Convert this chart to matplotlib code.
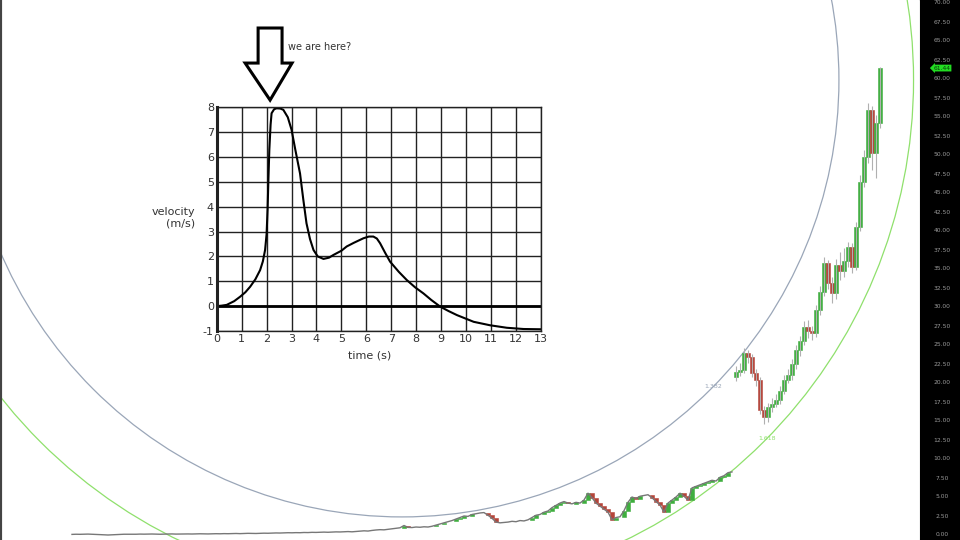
import numpy as np
import matplotlib.pyplot as plt
from matplotlib.patches import Ellipse, Polygon

plt.rcParams['axes.unicode_minus'] = False

# ---- datos: precio (barra = indice) ----
inicio1 = 18
cierre1 = [0.08, 0.1, 0.09, 0.1, 0.12, 0.1, 0.08, 0.05, 0.02, 0.0, 0.02, 0.05,
           0.08, 0.1, 0.1, 0.11, 0.1, 0.12, 0.11, 0.12, 0.13, 0.12, 0.1, 0.12,
           0.13, 0.14, 0.12, 0.13, 0.15, 0.14, 0.13, 0.15, 0.16, 0.15, 0.14, 0.16,
           0.17, 0.16, 0.18, 0.17, 0.19, 0.2, 0.18, 0.2, 0.22, 0.21, 0.2, 0.22,
           0.24, 0.23, 0.25, 0.27, 0.26, 0.28, 0.3, 0.29, 0.31, 0.3, 0.33, 0.32,
           0.35, 0.34, 0.36, 0.38, 0.36, 0.39, 0.41, 0.4, 0.43, 0.45, 0.42, 0.46,
           0.5, 0.55, 0.52, 0.6, 0.66, 0.7, 0.68, 0.75, 0.82, 0.9, 0.95, 1.25,
           1.0, 0.98, 1.05, 1.02, 1.08, 1.05, 1.15, 1.3, 1.45, 1.6, 1.75, 1.9,
           2.1, 2.3, 2.5, 2.45, 2.7, 2.8, 2.9, 2.95, 2.6, 2.2, 1.7, 1.6,
           1.65, 1.7, 1.8, 1.75, 1.9, 1.85, 2.0, 2.3, 2.6, 2.7, 3.0, 3.16,
           3.6, 3.9, 4.2, 4.4, 4.2, 4.1, 4.3, 4.2, 4.6, 5.5, 4.9, 4.2,
           3.8, 3.4, 3.0, 2.0, 2.3, 2.4, 3.2, 4.3, 5.0, 4.8, 5.1, 5.2,
           5.3, 4.9, 4.4, 3.95, 3.0, 4.2, 4.6, 5.0, 5.5, 5.1, 4.6, 6.2,
           6.4, 6.6, 6.8, 7.0, 7.2, 7.1, 7.6, 7.8, 8.2, 8.3]

inicio2 = 184
abre2 = [20.8, 21.4, 21.7, 23.9, 23.4, 21.3, 20.4, 16.4, 15.5, 16.8, 17.3, 17.8,
         19.0, 20.4, 21.0, 22.5, 24.3, 25.5, 27.4, 26.8, 26.6, 29.6, 32.0, 35.8,
         33.2, 31.8, 35.5, 34.8, 36.0, 37.9, 35.3, 40.5, 46.5, 49.7, 55.9, 50.3, 54.2]
cierre2 = [21.4, 21.7, 23.9, 23.4, 21.3, 20.4, 16.4, 15.5, 16.8, 17.3, 17.8, 19.0,
           20.4, 21.0, 22.5, 24.3, 25.5, 27.4, 26.8, 26.6, 29.6, 32.0, 35.8, 33.2,
           31.8, 35.5, 34.8, 36.0, 37.9, 35.3, 40.5, 46.5, 49.7, 55.9, 50.3, 54.2, 61.4]
alto2 = [22.2, 22.6, 24.6, 24.4, 23.8, 21.8, 20.8, 17.0, 17.4, 18.0, 18.5, 19.6,
         21.0, 21.8, 23.1, 25.0, 26.2, 28.1, 28.3, 27.5, 30.2, 32.8, 36.6, 36.2,
         34.0, 36.3, 37.2, 37.8, 38.6, 38.4, 41.2, 47.4, 50.6, 56.8, 56.4, 55.2, 61.6]
bajo2 = [20.2, 20.9, 21.3, 22.6, 20.8, 19.6, 15.9, 14.6, 14.9, 16.2, 16.8, 17.2,
         18.5, 20.0, 20.4, 21.8, 23.6, 25.0, 25.9, 25.6, 26.1, 29.0, 31.4, 32.4,
         30.5, 31.0, 33.6, 34.0, 35.2, 34.5, 34.9, 40.0, 45.8, 49.0, 48.0, 47.0, 53.5]
ultimo = 61.44

# circulos de fibonacci
centro_fib = (100.5, 59.87)
radio_fib = 41.6
niveles = [1.382, 1.618]
colores_fib = ['#9aa6b8', '#8fe06c']

# ---- datos: grafica de velocidad ----
tiempo = [0.0, 0.2, 0.4, 0.7, 0.94, 1.15, 1.34, 1.55, 1.74, 1.85, 1.94, 2.0, 2.04,
          2.07, 2.11, 2.16, 2.2, 2.3, 2.4, 2.55, 2.67, 2.85, 3.0, 3.15, 3.34, 3.47,
          3.6, 3.74, 3.88, 4.05, 4.28, 4.5, 4.68, 5.0, 5.21, 5.5, 5.88, 6.1, 6.28,
          6.42, 6.55, 6.75, 6.95, 7.3, 7.62, 7.95, 8.29, 8.6, 8.96, 9.3, 9.63,
          10.3, 10.96, 11.63, 12.3, 12.97]
velocidad = [0.0, 0.02, 0.05, 0.2, 0.38, 0.56, 0.78, 1.08, 1.45, 1.8, 2.26, 2.9,
             3.9, 5.0, 6.3, 7.3, 7.76, 7.92, 7.96, 7.95, 7.9, 7.6, 7.1, 6.3, 5.34,
             4.3, 3.33, 2.7, 2.26, 2.0, 1.9, 1.95, 2.06, 2.23, 2.4, 2.55, 2.73, 2.8,
             2.8, 2.72, 2.53, 2.15, 1.79, 1.38, 1.05, 0.76, 0.51, 0.25, -0.02, -0.2,
             -0.36, -0.63, -0.77, -0.87, -0.92, -0.93]

fig = plt.figure(figsize=(9.6, 5.4), dpi=100)
ax = fig.add_axes([0, 0, 920/960, 1])
ax.set_xlim(0, 230)
ax.set_ylim(-5/7.6, 535/7.6)
ax.set_xticks([])
ax.set_yticks([])
for s in ['top', 'right', 'bottom']:
    ax.spines[s].set_visible(False)
ax.spines['left'].set_linewidth(3)
ax.spines['left'].set_color('#444444')

# escala px por unidad para convertir circulos
sx = 920/230
sy = 540/(ax.get_ylim()[1]-ax.get_ylim()[0])

for nivel, col in zip(niveles, colores_fib):
    r = nivel*radio_fib
    e = Ellipse(centro_fib, 2*r*sy/sx, 2*r, fill=False, edgecolor=col, lw=0.9)
    ax.add_patch(e)
    ang = np.radians(-44.5)
    tx = centro_fib[0] + r*np.cos(ang)*sy/sx
    ty = centro_fib[1] + r*np.sin(ang)
    ax.text(tx, ty, str(nivel), color=col, fontsize=4.5, ha='center', va='center')

verde = '#3fae3f'
rojo = '#b5453a'

# velas
x1 = np.arange(inicio1, inicio1+len(cierre1))
c1 = np.array(cierre1)
o1 = np.r_[c1[0], c1[:-1]]
ax.plot(x1, c1, color='#777777', lw=1.0)
d1 = np.abs(c1-o1) > 0.15
col1 = np.where(c1 >= o1, verde, rojo)
ax.bar(x1[d1], np.abs(c1-o1)[d1], bottom=np.minimum(o1, c1)[d1], width=0.8,
       color=col1[d1], edgecolor=col1[d1], lw=0.4)

x2 = np.arange(inicio2, inicio2+len(cierre2))
o2 = np.array(abre2)
c2 = np.array(cierre2)
ax.vlines(x2, bajo2, alto2, color='#b0b0b0', lw=0.8)
col2 = np.where(c2 >= o2, verde, rojo)
ax.bar(x2, np.maximum(np.abs(c2-o2), 0.2), bottom=np.minimum(o2, c2), width=0.8,
       color=col2, edgecolor=col2, lw=0.4)

# eje de precios
pax = fig.add_axes([920/960, 0, 40/960, 1])
pax.set_facecolor('black')
pax.set_xlim(0, 1)
pax.set_ylim(ax.get_ylim())
pax.set_xticks([])
pax.set_yticks([])
for v in np.arange(0, 72.5, 2.5):
    pax.text(0.55, v, '%.2f' % v, color='#9a9a9a', fontsize=4.3, ha='center', va='center')
pax.text(0.55, ultimo, '%.2f' % ultimo, color='#0a3a0a', fontsize=4.3, ha='center', va='center',
         bbox=dict(boxstyle='larrow,pad=0.15', fc='#22dd22', ec='none'))

# grafica de velocidad
iax = fig.add_axes([216.7/960, 1-331/540, 324.3/960, 223.7/540])
iax.set_xlim(0, 13)
iax.set_ylim(-1, 8)
iax.set_xticks(range(0, 14))
iax.set_yticks(range(-1, 9))
iax.grid(True, color='#222222', lw=1)
iax.tick_params(length=0, labelsize=8, colors='#333333', pad=2)
for s in iax.spines.values():
    s.set_color('#222222')
    s.set_linewidth(1)
iax.spines['left'].set_linewidth(2.2)
iax.axhline(0, color='black', lw=2)
iax.plot(tiempo, velocidad, color='black', lw=1.5)
iax.text(-0.85, 3.55, 'velocity\n(m/s)', fontsize=8, ha='right', va='center', multialignment='right', color='#333333')
iax.text(6.15, -2.0, 'time (s)', fontsize=8, ha='center', va='center', color='#333333')

# flecha "we are here?"
punta = (2.14, 8.29)
flecha = [(-0.48, 2.9), (0.48, 2.9), (0.48, 1.49), (0.88, 1.49), (0.0, 0.0),
          (-1.0, 1.49), (-0.48, 1.49)]
flecha = [(punta[0]+a, punta[1]+b) for a, b in flecha]
iax.add_patch(Polygon(flecha, closed=True, fill=False, ec='black', lw=2.2, clip_on=False))
iax.text(2.86, 10.43, 'we are here?', fontsize=7, ha='left', va='center', color='#333333')

fig.savefig('out.png', dpi=100)
